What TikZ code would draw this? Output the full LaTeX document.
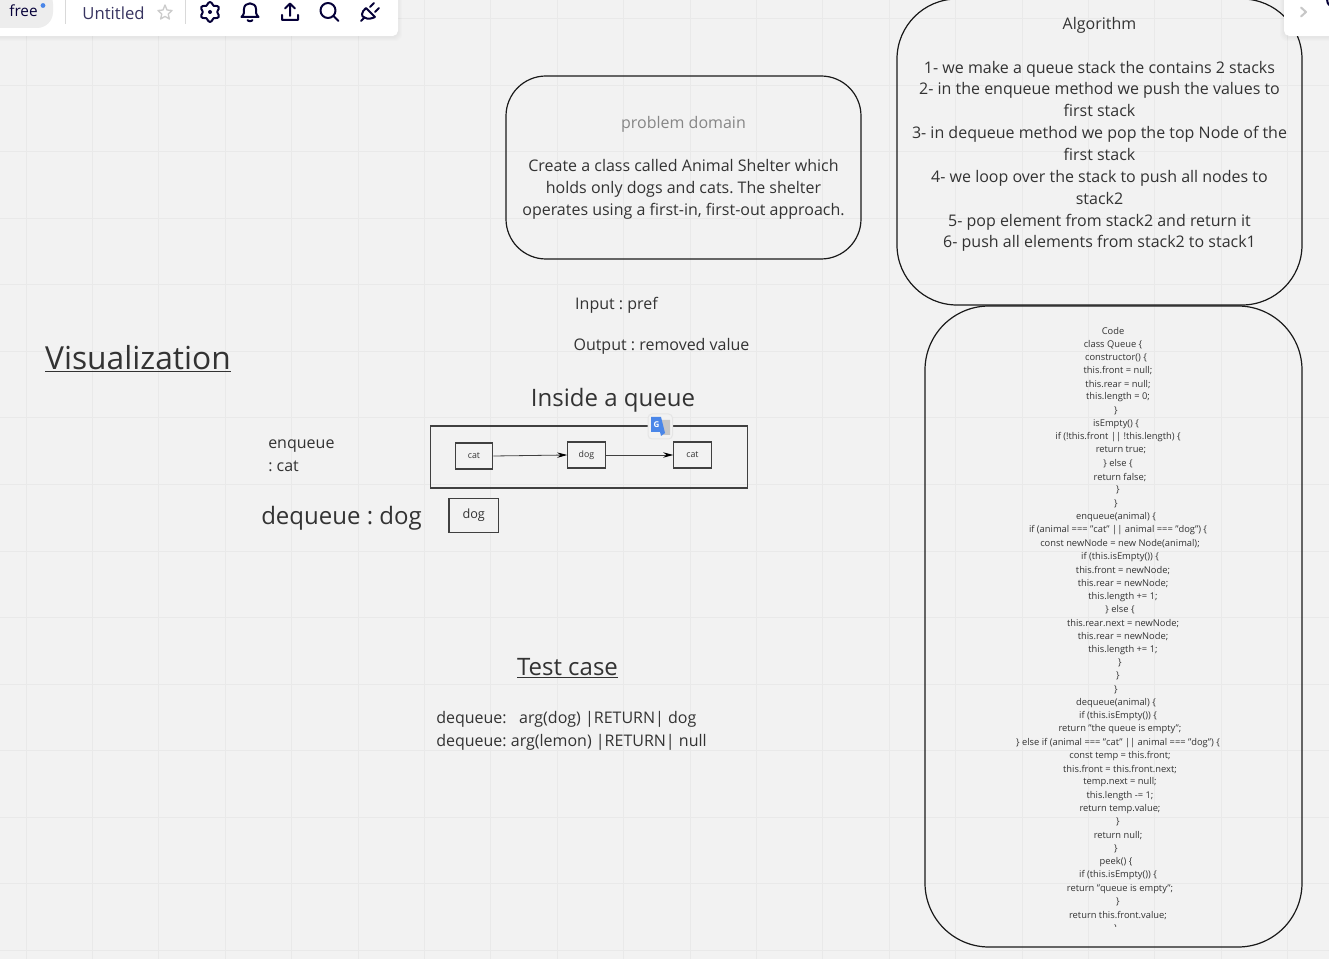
\documentclass[tikz,border=0pt]{standalone}
\usepackage{fontspec}
\setmainfont{Open Sans}
\usetikzlibrary{arrows.meta}
\frenchspacing
\definecolor{bgc}{HTML}{F2F2F2}
\definecolor{gridc}{HTML}{E9E9E9}
\definecolor{inkc}{HTML}{333333}
\definecolor{linec}{HTML}{1A1A1A}
\definecolor{navy}{HTML}{050038}
\definecolor{boxc}{HTML}{404040}
\definecolor{gblue}{HTML}{4A86E8}
\tikzset{
  tx/.style={text=inkc,inner sep=0pt,align=center},
  big/.style={tx,font=\fontsize{12}{16.4}\selectfont},
  roundbox/.style={draw=linec,line width=.9pt,rounded corners=#1},
  cell/.style={draw=boxc,line width=.9pt,fill=bgc,inner sep=0pt,text=inkc,font=\fontsize{6.6}{8}\selectfont},
  flow/.style={draw=boxc,line width=.6pt,-{Stealth[length=7.5pt,width=4pt,black]}},
  code/.style={tx,font=\fontsize{7}{8}\selectfont},
  ico/.style={draw=navy,line width=1.5pt,line cap=round,line join=round},
  x=.75pt,y=-.75pt
}
\newcounter{cl}
\newcommand\cl[2]{\node[code] (code\thecl) at (#1,{331+13.28*\thecl}) {#2};\stepcounter{cl}}
\begin{document}
\begin{tikzpicture}[x=.75pt,y=-.75pt]
\useasboundingbox (0,0) rectangle (1329,959);
\fill[bgc] (0,0) rectangle (1329,959);
\foreach \k in {0,...,19} \draw[gridc,line width=.75pt] ({26+66.4*\k},0) -- ({26+66.4*\k},959);
\foreach \k in {0,...,14} \draw[gridc,line width=.75pt] (0,{19+66.5*\k}) -- (1329,{19+66.5*\k});

% rounded boxes
\draw[roundbox=30pt] (506,76) rectangle (861,259);
\draw[roundbox=45pt] (897,-1) rectangle (1302,305);
\draw[roundbox=48pt] (925,306) rectangle (1302,947);

% problem domain
\node[big,text=gray!95] (pdtitle) at (683.5,124) {problem domain};
\node[big] (pd) at (683.5,189.5) {Create a class called Animal Shelter which\\holds only dogs and cats. The shelter\\operates using a first-in, first-out approach.};

% algorithm
\node[big] (algo) at (1099.5,134.5) {Algorithm\\[16.4pt]
1- we make a queue stack the contains 2 stacks\\
2- in the enqueue method we push the values to\\
first stack\\
3- in dequeue method we pop the top Node of the\\
first stack\\
4- we loop over the stack to push all nodes to\\
stack2\\
5- pop element from stack2 and return it\\
6- push all elements from stack2 to stack1};

\node[big] (inp) at (616.5,305) {Input : pref};
\node[big] (outp) at (661.5,346) {Output : removed value};
\node[tx,font=\fontsize{23.8}{28}\selectfont] (vis) at (138,359) {\underline{Visualization}};
\node[tx,font=\fontsize{18}{22}\selectfont] (inside) at (613,400) {Inside a queue};
\node[tx,align=left,anchor=north west,font=\fontsize{12}{17.2}\selectfont] (enq) at (268,440) {enqueue\\: cat};
\node[tx,font=\fontsize{18}{22}\selectfont] (deq) at (341.5,518) {dequeue : dog};
\node[tx,font=\fontsize{18}{22}\selectfont] (test) at (567.5,668) {\underline{Test case}};
\node[tx,align=left,anchor=north west,font=\fontsize{12}{17.2}\selectfont] (cases) at (436,711) {dequeue:\ \ \ arg(dog) |RETURN| dog\\dequeue: arg(lemon) |RETURN| null};

% queue diagram
\draw[boxc,line width=1pt] (430.5,426) rectangle (747.5,488);
\node[cell,minimum width=28pt,minimum height=19.5pt] (c1) at (474,456) {cat};
\node[cell,minimum width=28pt,minimum height=19.5pt] (d1) at (586.5,455) {dog};
\node[cell,minimum width=28pt,minimum height=19.5pt] (c2) at (692.5,455) {cat};
\draw[flow] (c1.east) -- (d1.west);
\draw[flow] (d1.east) -- (c2.west);
\node[cell,font=\fontsize{9.5}{11}\selectfont,minimum width=37pt,minimum height=25pt] (d2) at (473.7,515.5) {dog};

% code
\begin{scope}
\clip (925,306) rectangle (1302,926.5);
\cl{1113}{Code}
\cl{1113}{class Queue \{}
\cl{1116}{constructor() \{}
\cl{1118}{this.front = null;}
\cl{1118}{this.rear = null;}
\cl{1118}{this.length = 0;}
\cl{1116}{\}}
\cl{1116}{isEmpty() \{}
\cl{1118}{if (!this.front || !this.length) \{}
\cl{1121}{return true;}
\cl{1118}{\} else \{}
\cl{1120}{return false;}
\cl{1118}{\}}
\cl{1116}{\}}
\cl{1116}{enqueue(animal) \{}
\cl{1118}{if (animal === "cat" || animal === "dog") \{}
\cl{1120}{const newNode = new Node(animal);}
\cl{1120}{if (this.isEmpty()) \{}
\cl{1123}{this.front = newNode;}
\cl{1123}{this.rear = newNode;}
\cl{1123}{this.length += 1;}
\cl{1120}{\} else \{}
\cl{1123}{this.rear.next = newNode;}
\cl{1123}{this.rear = newNode;}
\cl{1123}{this.length += 1;}
\cl{1120}{\}}
\cl{1118}{\}}
\cl{1116}{\}}
\cl{1116}{dequeue(animal) \{}
\cl{1118}{if (this.isEmpty()) \{}
\cl{1120}{return "the queue is empty";}
\cl{1118}{\} else if (animal === "cat" || animal === "dog") \{}
\cl{1120}{const temp = this.front;}
\cl{1120}{this.front = this.front.next;}
\cl{1120}{temp.next = null;}
\cl{1120}{this.length -= 1;}
\cl{1120}{return temp.value;}
\cl{1118}{\}}
\cl{1118}{return null;}
\cl{1116}{\}}
\cl{1116}{peek() \{}
\cl{1118}{if (this.isEmpty()) \{}
\cl{1120}{return "queue is empty";}
\cl{1118}{\}}
\cl{1118}{return this.front.value;}
\cl{1116}{\}}
\end{scope}

% toolbar shadows, built from faint layers
\foreach \s in {1,2,3,4} {
  \fill[black,opacity=.012,rounded corners=5pt] (-20,-20) rectangle ({398+\s},{37+\s});
  \fill[black,opacity=.012,rounded corners=5pt] ({1284-\s},-20) rectangle (1350,{37+\s});
}
\fill[white,rounded corners=4pt] (-20,-20) rectangle (398,36);
\fill[white,rounded corners=4pt] (1284,-20) rectangle (1350,36);
\fill[black!7,rounded corners=12pt] (-20,-12) rectangle (53,28);
\node[inner sep=0pt,text=navy,font=\fontsize{11.5}{13}\selectfont] (free) at (23.5,11) {free};
\fill[gblue] (43,5.5) circle (2.4);
\draw[black!15,line width=.75pt] (65.5,0) -- (65.5,24) (185.5,0) -- (185.5,24);
\node[inner sep=0pt,text=navy!80,font=\fontsize{12.5}{14}\selectfont] (title) at (113.5,13) {Untitled};
\draw[black!20,line width=1pt,line join=round] (165,5)--(167,10)--(172,10.5)--(168.2,14)--(169.4,19)--(165,16.4)--(160.6,19)--(161.8,14)--(158,10.5)--(163,10)--cycle;
% gear
\draw[ico] plot[smooth cycle,samples=36,domain=0:350] ({210+(8.6+1.4*cos(6*(\x-90)))*cos(\x)},{12+(8.6+1.4*cos(6*(\x-90)))*sin(\x)});
\fill[navy] (210,12) circle (2);
% bell
\draw[ico] (241.5,17) .. controls (244.5,14) and (244,12) .. (244,9) .. controls (244,1.5) and (256,1.5) .. (256,9) .. controls (256,12) and (255.5,14) .. (258.5,17) -- cycle;
\draw[ico] (247.5,20) .. controls (248,21.5) and (252,21.5) .. (252.5,20);
% upload
\draw[ico] (290,16) -- (290,4) (285,8.5) -- (290,3.5) -- (295,8.5) (282,15) -- (282,20) -- (298,20) -- (298,15);
% search
\draw[ico] (328,10.5) circle (7.5);
\draw[ico] (333.5,16) -- (338.5,21);
% plug
\draw[ico] (361,21) -- (364.5,17.5);
\draw[ico] (366,8) -- (375,17) (366,8) .. controls (361,12) and (361,17) .. (364.5,17.5) .. controls (368,20) and (373,18) .. (375,17);
\draw[ico] (370,7) -- (374,3) (375,12) -- (379,8);
% chevron and cut-off glyph
\draw[black!22,line width=1.5pt,line cap=round,line join=round] (1301,7.5) -- (1306,12) -- (1301,16.5);
\draw[navy,line width=1.5pt,line cap=round] (1329,5) arc (140:220:8);

% translate badge
\draw[black!10,fill=bgc,rounded corners=3pt,line width=.75pt] (648,414) rectangle (672.5,439);
\fill[black!22] (660,420) -- (670,420) -- (670,435) -- (662,435) -- cycle;
\fill[gblue] (651,417) -- (661,417) -- (665,433) -- (661,436) -- (660,432) -- (651,432) -- cycle;
\node[inner sep=0pt,text=white,font=\fontsize{6}{7}\selectfont\bfseries] (gt) at (656.5,424.5) {G};
\end{tikzpicture}
\end{document}
